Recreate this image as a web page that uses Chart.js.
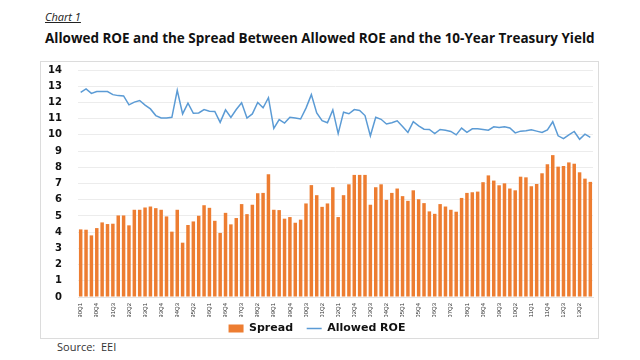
<!DOCTYPE html>
<html>
<head>
<meta charset="utf-8">
<script src="https://cdn.jsdelivr.net/npm/chart.js@4"></script>
<style>
  html, body { margin: 0; padding: 0; background: #fff; }
  body { width: 640px; height: 360px; position: relative; overflow: hidden; font-family: "Open Sans", "Liberation Sans", sans-serif; }
  #sub { position: absolute; left: 45px; top: 9px; font-size: 11px; font-style: italic; text-decoration: underline; color: #222; }
  #title { position: absolute; left: 45px; top: 29px; font-size: 15px; font-weight: bold; color: #111; white-space: nowrap; }
  #box { position: absolute; left: 40px; top: 61px; width: 557px; height: 276px; border: 1px solid #dcdcdc; }
  #c { display: block; }
  #src { position: absolute; left: 57px; top: 339px; font-size: 11px; color: #333; }
</style>
</head>
<body>
<div id="sub">Chart 1</div>
<div id="title">Allowed ROE and the Spread Between Allowed ROE and the 10-Year Treasury Yield</div>
<div id="box"><canvas id="c" width="557" height="276"></canvas></div>
<div id="src">Source:&nbsp; EEI</div>
<script>
// Quarters 90Q1 .. 13Q4
const years = ["90","91","92","93","94","95","96","97","98","99","00","01","02","03","04","05","06","07","08","09","10","11","12","13"];
const quarters = [];
years.forEach(y => { for (let q = 1; q <= 4; q++) quarters.push(y + "Q" + q); });

const spread = [
  4.17, 4.15, 3.80, 4.25,  4.60, 4.50, 4.52, 5.03,  5.03, 4.42, 5.38, 5.38,
  5.52, 5.58, 5.48, 5.38,  4.97, 4.03, 5.38, 3.35,  4.44, 4.66, 5.01, 5.66,
  5.50, 4.70, 3.95, 5.19,  4.48, 4.87, 5.73, 5.11,  5.69, 6.40, 6.42, 7.57,
  5.38, 5.36, 4.83, 4.93,  4.58, 4.77, 5.77, 6.90,  6.28, 5.56, 5.77, 6.77,
  4.93, 6.28, 6.95, 7.53,  7.53, 7.53, 5.69, 6.77,  6.95, 5.99, 6.42, 6.69,
  6.22, 5.93, 6.58, 6.03,  5.79, 5.28, 5.13, 5.73,  5.58, 5.38, 5.26, 6.11,
  6.42, 6.46, 6.50, 7.08,  7.50, 7.18, 6.89, 7.01,  6.69, 6.58, 7.42, 7.38,
  6.83, 6.97, 7.63, 8.18,  8.75, 8.04, 8.08, 8.30,  8.22, 7.69, 7.30, 7.10
];

const allowedROE = [
  12.62, 12.83, 12.56, 12.67,  12.67, 12.67, 12.48, 12.42,  12.40, 11.85, 12.02, 12.12,
  11.83, 11.60, 11.19, 11.04,  11.04, 11.08, 12.75, 11.29,  11.96, 11.33, 11.35, 11.56,
  11.46, 11.44, 10.77, 11.54,  11.08, 11.56, 11.98, 11.04,  11.29, 12.00, 11.67, 12.29,
  10.40, 10.94, 10.73, 11.08,  11.04, 10.98, 11.65, 12.48,  11.35, 10.87, 10.75, 11.54,
  10.08, 11.40, 11.30, 11.56,  11.50, 11.19,  9.94, 11.08,  10.96, 10.67, 10.75, 10.87,
  10.52, 10.15, 10.81, 10.56,  10.35, 10.33, 10.08, 10.33,  10.29, 10.21, 10.00, 10.42,
  10.15, 10.37, 10.37, 10.33,  10.29, 10.50, 10.46, 10.50,  10.42, 10.12, 10.23, 10.25,
  10.31, 10.23, 10.15, 10.31,  10.81,  9.94,  9.77, 10.00,  10.21,  9.73, 10.04,  9.85
];

const yTicks = [0,1,2,3,4,5,6,7,8,9,10,11,12,13,14];

// fit title width to reference
(function(){
  const t = document.getElementById('title');
  const target = 550;
  const w = t.getBoundingClientRect().width;
  t.style.fontSize = (15 * target / w).toFixed(2) + 'px';
})();

const chart = new Chart(document.getElementById('c'), {
  data: {
    labels: quarters,
    datasets: [
      { type: 'line', label: 'Allowed ROE', data: allowedROE, borderColor: '#5B9BD5', backgroundColor: '#5B9BD5',
        borderWidth: 1.5, pointRadius: 0, tension: 0, order: 1 },
      { type: 'bar', label: 'Spread', data: spread, backgroundColor: '#ED7D31', borderWidth: 0,
        categoryPercentage: 1.0, barPercentage: 0.65, order: 2 }
    ]
  },
  options: {
    responsive: false,
    animation: false,
    devicePixelRatio: 1,
    layout: { padding: { top: 8, right: 5, bottom: 0, left: 0 } },
    plugins: {
      tooltip: { enabled: false },
      legend: {
        position: 'bottom',
        reverse: true,
        maxHeight: 21,
        labels: {
          usePointStyle: true,
          boxHeight: 8,
          pointStyleWidth: 15,
          padding: 6,
          color: '#111',
          font: { family: 'DejaVu Sans', weight: 'bold', size: 11 },
          generateLabels(chart) {
            const ds = chart.data.datasets;
            return ds.map((d, i) => ({
              text: d.type === 'bar' ? d.label + '\u00a0\u00a0' : d.label,
              fillStyle: d.type === 'bar' ? '#ED7D31' : 'rgba(0,0,0,0)',
              strokeStyle: d.type === 'bar' ? '#ED7D31' : '#5B9BD5',
              lineWidth: d.type === 'bar' ? 0 : 1.5,
              pointStyle: d.type === 'bar' ? 'rect' : 'line',
              datasetIndex: i,
              hidden: false,
              fontColor: '#111'
            }));
          }
        }
      }
    },
    scales: {
      x: {
        offset: true,
        grid: { display: false, drawTicks: false },
        border: { display: true, color: '#e3e3e3' },
        ticks: {
          autoSkip: false,
          minRotation: 90, maxRotation: 90,
          padding: 6,
          color: '#333',
          font: { family: '"Liberation Sans Narrow", "Liberation Sans", sans-serif', size: 6 },
          callback(v, i) { return i % 3 === 0 ? quarters[i] : ''; }
        },
        afterFit(axis) { axis.height = 20; axis.paddingLeft = 0; axis.paddingRight = 0; axis.paddingTop = 0; axis.paddingBottom = 0; }
      },
      y: {
        min: 0, max: 14,
        afterBuildTicks(axis) { axis.ticks = yTicks.map(v => ({ value: v })); },
        grid: { color: '#ececec', drawTicks: false },
        border: { display: false },
        ticks: {
          autoSkip: false,
          stepSize: 1,
          padding: 16,
          color: '#111',
          font: { family: 'DejaVu Sans', weight: 'bold', size: 10 }
        },
        afterFit(axis) { axis.width = 37; axis.paddingLeft = 0; axis.paddingRight = 0; axis.paddingTop = 0; axis.paddingBottom = 0; }
      }
    }
  }
});
</script>
</body>
</html>
